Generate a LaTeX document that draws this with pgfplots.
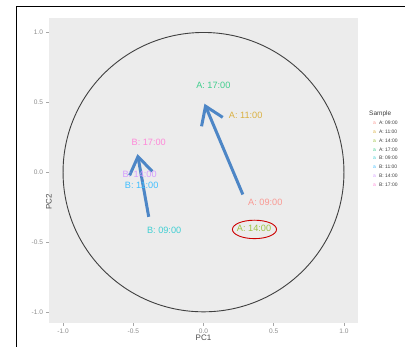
\documentclass[border=0pt]{standalone}
\usepackage{pgfplots}
\pgfplotsset{compat=1.18}
\usepackage{fontspec}
\setmainfont{Liberation Sans}
\usetikzlibrary{arrows.meta}
\definecolor{cA09}{HTML}{F8766D}
\definecolor{cA11}{HTML}{CD9600}
\definecolor{cA14}{HTML}{7CAE00}
\definecolor{cA17}{HTML}{00BE67}
\definecolor{cB09}{HTML}{00BFC4}
\definecolor{cB11}{HTML}{00A9FF}
\definecolor{cB14}{HTML}{C77CFF}
\definecolor{cB17}{HTML}{FF61CC}
\definecolor{panelgray}{HTML}{ECECEC}
\definecolor{arrowblue}{HTML}{4D86C6}
\pgfplotsset{
  lbl/.style 2 args={only marks, mark=text, text mark={#1}, text mark as node,
    color=#2!75!white, forget plot,
    text mark style={font=\fontsize{9.2}{9.2}\selectfont, anchor=center, inner sep=0pt}},
}
\newcommand{\key}[2]{\makebox[6bp][l]{\textcolor{#1!75!white}{a}}#2}
\begin{document}
\begin{tikzpicture}
\path[use as bounding box] (0,0) rectangle (420bp,347bp);
\draw[black, line width=1bp] (16.5bp,0) -- (16.5bp,340bp) -- (405bp,340bp);
\begin{axis}[
  at={(49bp,24bp)}, anchor=south west,
  scale only axis, width=309bp, height=304.5bp,
  xmin=-1.1, xmax=1.1, ymin=-1.08, ymax=1.1,
  xtick={-1,-0.5,0,0.5,1}, ytick={-1,-0.5,0,0.5,1},
  axis background/.style={fill=panelgray},
  axis line style={draw=none},
  tick align=outside, major tick length=2.5bp,
  tick style={gray!70, line width=0.5bp},
  xtick pos=bottom, ytick pos=left,
  ticklabel style={font=\fontsize{6.6}{6.6}\selectfont, text=gray!90},
  /pgf/number format/.cd, fixed, fixed zerofill, precision=1, assume math mode=true,
  /pgfplots/.cd,
  xlabel={PC1}, ylabel={PC2},
  xlabel style={font=\fontsize{8}{8}\selectfont, text=black!70, at={(axis description cs:0.5,0)}, anchor=center, yshift=-15bp},
  ylabel style={font=\fontsize{8}{8}\selectfont, text=black!70, at={(axis description cs:0,0.49)}, anchor=center, xshift=-28bp},
  clip=false,
  legend style={at={(axis description cs:1.048,0.663)}, anchor=north west, draw=none, fill=none,
    inner sep=0pt, font=\fontsize{5}{5}\selectfont, text=black!75,
    nodes={inner sep=0pt, text height=3.6bp, text depth=0.9bp}, row sep=4.26bp,
    /tikz/every even column/.style={column sep=0pt}, /tikz/every odd column/.style={column sep=0pt}},
  legend cell align=left,
]
\draw[black!75, line width=0.9bp] (axis cs:0,0) ellipse [x radius=1, y radius=1];
\addplot[lbl={A: 09:00}{cA09}] coordinates {(0.44,-0.215)};
\addplot[lbl={A: 11:00}{cA11}] coordinates {(0.30,0.41)};
\addplot[lbl={A: 14:00}{cA14}] coordinates {(0.36,-0.40)};
\addplot[lbl={A: 17:00}{cA17}] coordinates {(0.07,0.62)};
\addplot[lbl={B: 09:00}{cB09}] coordinates {(-0.28,-0.42)};
\addplot[lbl={B: 11:00}{cB11}] coordinates {(-0.44,-0.093)};
\addplot[lbl={B: 14:00}{cB14}] coordinates {(-0.455,-0.015)};
\addplot[lbl={B: 17:00}{cB17}] coordinates {(-0.39,0.215)};
\addlegendimage{empty legend}\addlegendentry{\key{cA09}{A: 09:00}}
\addlegendimage{empty legend}\addlegendentry{\key{cA11}{A: 11:00}}
\addlegendimage{empty legend}\addlegendentry{\key{cA14}{A: 14:00}}
\addlegendimage{empty legend}\addlegendentry{\key{cA17}{A: 17:00}}
\addlegendimage{empty legend}\addlegendentry{\key{cB09}{B: 09:00}}
\addlegendimage{empty legend}\addlegendentry{\key{cB11}{B: 11:00}}
\addlegendimage{empty legend}\addlegendentry{\key{cB14}{B: 14:00}}
\addlegendimage{empty legend}\addlegendentry{\key{cB17}{B: 17:00}}
\draw[red!80!black, line width=0.9bp] (axis cs:0.363,-0.41) ellipse [x radius=0.157, y radius=0.066];
\draw[arrowblue, line width=3bp, -{Straight Barb[length=17bp, width=23bp]}] (axis cs:0.28,-0.16) -- (axis cs:0.007,0.49);
\draw[arrowblue, line width=3bp, -{Straight Barb[length=17bp, width=23bp]}] (axis cs:-0.39,-0.32) -- (axis cs:-0.47,0.13);
\end{axis}
\node[anchor=west, inner sep=0pt, font=\fontsize{6.5}{6.5}\selectfont, text=black!75] at (369bp,233bp) {Sample};
\end{tikzpicture}
\end{document}
